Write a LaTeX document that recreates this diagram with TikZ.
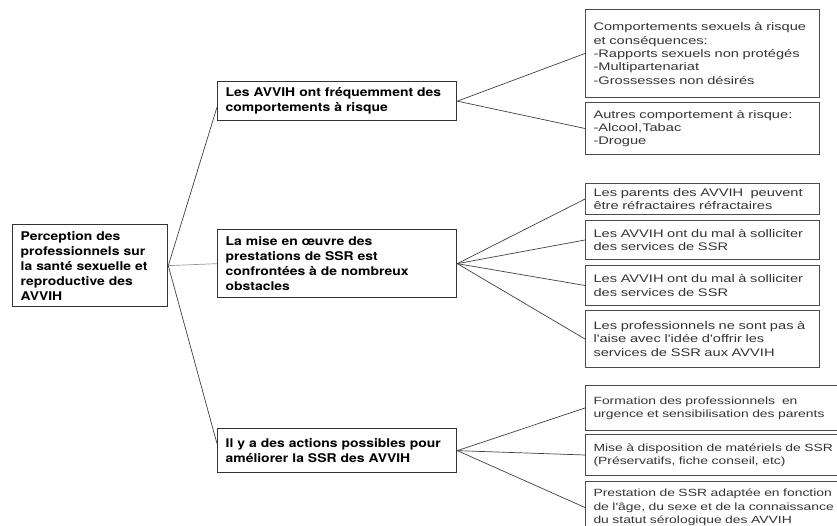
\documentclass[tikz,border=0pt]{standalone}
\usepackage{fontspec}
\newfontfamily\headfont[FakeStretch=1.16]{TeX Gyre Heros}
\newfontfamily\leaffont[FakeStretch=1.33]{Liberation Sans}
\newcommand{\headtext}{\headfont\bfseries\fontsize{12}{15}\selectfont}
\newcommand{\leaftext}{\leaffont\fontsize{11}{13.4}\selectfont}
\newcommand{\wideleaftext}{\leaffont\fontsize{10.45}{13.4}\selectfont}
\usetikzlibrary{positioning}
\tikzset{
  rootbox/.style={
    rectangle,
    draw=black!80,
    line width=1.3pt,
    anchor=north west,
    align=left,
    inner xsep=8pt,
    text width=139pt,
    font=\headtext
  },
  midbox/.style={
    rectangle,
    draw=black!80,
    line width=1.3pt,
    anchor=north west,
    align=left,
    inner xsep=8pt,
    text width=223pt,
    font=\headtext
  },
  leafbox/.style={
    rectangle,
    draw=black!70,
    line width=1pt,
    anchor=north west,
    align=left,
    inner xsep=8pt,
    inner ysep=3pt,
    text=black!80,
    text width=218pt,
    font=\leaftext
  },
  wideleaf/.style={
    leafbox,
    text width=246pt,
    font=\wideleaftext
  },
  link/.style={draw=black!75, line width=0.7pt},
  lightlink/.style={draw=black!40, line width=0.7pt}
}
\begin{document}
\begin{tikzpicture}[x=1pt, y=-1pt]
\path[use as bounding box, clip] (0,0) rectangle (837,526);

% root and the three themes
\node[rootbox, minimum height=82pt] (root) at (12,224)
  {Perception des\\professionnels sur\\la santé sexuelle et\\reproductive des\\AVVIH};
\node[midbox, minimum height=39pt] (risk) at (217,81)
  {Les AVVIH ont fréquemment des\\comportements à risque};
\node[midbox, minimum height=68pt] (obstacles) at (217,229)
  {La mise en œuvre des\\prestations de SSR est\\confrontées à de nombreux\\obstacles};
\node[midbox, minimum height=44pt] (actions) at (217,428)
  {Il y a des actions possibles pour\\améliorer la SSR des AVVIH};

% risk behaviours
\node[leafbox, minimum height=88pt] (sexrisk) at (585,9)
  {Comportements sexuels à risque\\et conséquences:\\-Rapports sexuels non protégés\\-Multipartenariat\\-Grossesses non désirés};
\node[leafbox, minimum height=52pt, below=4pt of sexrisk] (otherrisk)
  {Autres comportement à risque:\\-Alcool,Tabac\\-Drogue};

% obstacles
\node[leafbox, minimum height=31pt] (parents) at (585,183)
  {Les parents des AVVIH~ peuvent\\être réfractaires réfractaires};
\node[leafbox, minimum height=39pt, below=5pt of parents] (askone)
  {Les AVVIH ont du mal à solliciter\\des services de SSR};
\node[leafbox, minimum height=40pt, below=5pt of askone] (asktwo)
  {Les AVVIH ont du mal à solliciter\\des services de SSR};
\node[leafbox, minimum height=57pt, below=4pt of asktwo] (uneasy)
  {Les professionnels ne sont pas à\\l'aise avec l'idée d'offrir les\\services de SSR aux AVVIH};

% actions
\node[wideleaf, minimum height=45pt] (training) at (585,385)
  {Formation des professionnels~ en\\urgence et sensibilisation des parents};
\node[wideleaf, minimum height=41pt, below=3pt of training] (material)
  {Mise à disposition de matériels de SSR\\(Préservatifs, fiche conseil, etc)};
\node[wideleaf, minimum height=52pt, below=5pt of material] (adapted)
  {Prestation de SSR adaptée en fonction\\de l'âge, du sexe et de la connaissance\\du statut sérologique des AVVIH};

\draw[link] (root.east) -- ([yshift=-6pt]risk.west);
\draw[lightlink] (root.east) -- (obstacles.west);
\draw[link] (root.east) -- ([yshift=7pt]actions.west);
\draw[link] (risk.east) -- (sexrisk.west);
\draw[link] (risk.east) -- (otherrisk.west);
\draw[link] (obstacles.east) -- (parents.west);
\draw[link] (obstacles.east) -- (askone.west);
\draw[link] (obstacles.east) -- (asktwo.west);
\draw[link] (obstacles.east) -- (uneasy.west);
\draw[link] (actions.east) -- (training.west);
\draw[link] (actions.east) -- (material.west);
\draw[link] (actions.east) -- (adapted.west);
\end{tikzpicture}
\end{document}
